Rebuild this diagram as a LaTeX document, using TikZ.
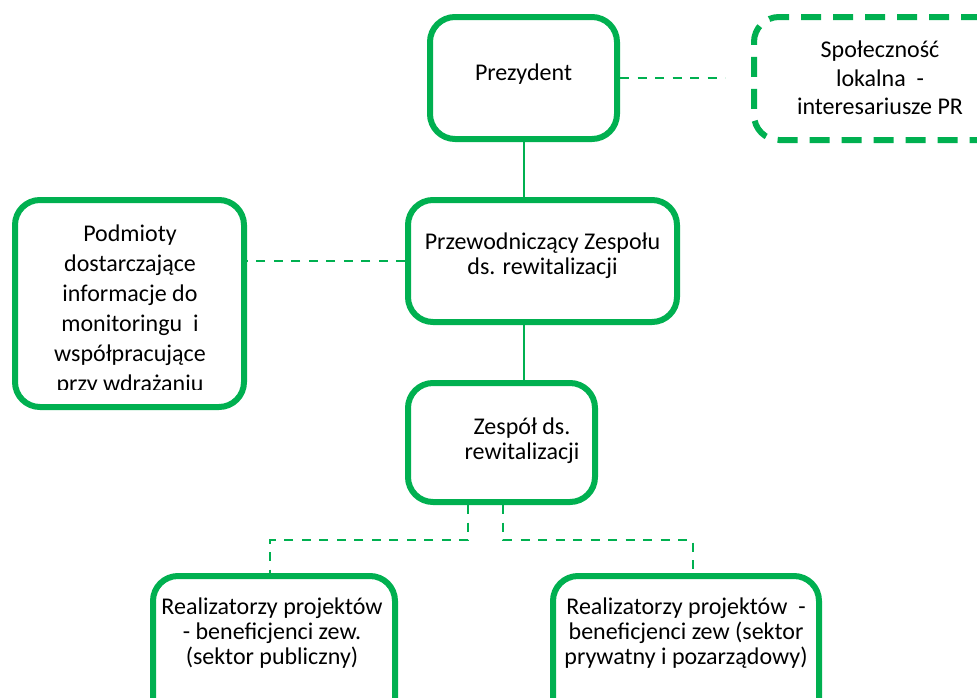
\documentclass[tikz,border=0pt]{standalone}
\usepackage{fontspec}
\setmainfont{Carlito}
\definecolor{og}{HTML}{00B050}
\begin{document}
\begin{tikzpicture}[x=1pt,y=-1pt,
  box/.style={draw=og,line width=6pt,rounded corners=25pt,inner sep=0pt},
  dbox/.style={box,dash pattern=on 20pt off 12pt},
  solidlink/.style={draw=og,line width=2pt},
  dlink/.style={draw=og,line width=2.5pt,dash pattern=on 9pt off 8.5pt},
  txt/.style={align=center,inner sep=0pt,font=\fontsize{24}{25}\selectfont}]
\clip (0,0) rectangle (977,697);
\fill[white] (0,0) rectangle (977,697);
% boxes
\node[box,minimum width=187pt,minimum height=122pt] (pre) at (523.5,78) {};
\node[dbox,minimum width=252pt,minimum height=123pt] (spo) at (880,78.5) {};
\node[box,minimum width=269pt,minimum height=122pt] (prz) at (542.5,261) {};
\node[box,minimum width=187pt,minimum height=119pt] (zes) at (501.5,442.5) {};
\node[box,minimum width=229pt,minimum height=207pt] (pod) at (129.5,303.5) {};
\node[box,minimum width=242pt,minimum height=150pt] (bl) at (274,651) {};
\node[box,minimum width=266pt,minimum height=150pt] (br) at (686,651) {};
% texts
\node[txt] (pret) at (523.5,74) {Prezydent};
\node[txt,font=\fontsize{24}{28.5}\selectfont] (spot) at (880,78) {Społeczność\\lokalna \ -\\interesariusze PR};
\node[txt] (przt) at (542.5,256) {Przewodniczący Zespołu\\ds. rewitalizacji};
\node[txt] (zest) at (522,441) {Zespół ds.\\rewitalizacji};
\begin{scope}
\clip (15,200) rectangle (244,389);
\node[txt,font=\fontsize{24}{30}\selectfont] (podt) at (130,310) {Podmioty\\dostarczające\\informacje do\\monitoringu \ i\\współpracujące\\przy wdrażaniu};
\end{scope}
\node[txt] (blt) at (272,633) {Realizatorzy projektów\\- beneficjenci zew.\\(sektor publiczny)};
\node[txt] (brt) at (686,633) {Realizatorzy projektów \ -\\beneficjenci zew (sektor\\prywatny i pozarządowy)};
% connectors
\coordinate (spoend) at (725,78);
\draw[dlink] (pre.east) -- (spoend);
\draw[solidlink] (pre.south) -- (pre.south |- prz.north);
\draw[solidlink] (prz.south -| pre.south) -- (zes.north -| pre.south);
\draw[dlink] (prz.west) -- (prz.west -| pod.east);
\coordinate (zl) at (468,505);
\coordinate (zr) at (503,505);
\draw[dlink] (zl) -- (468,540) -- (270,540) -- (270,573);
\draw[dlink] (zr) -- (503,540) -- (693,540) -- (693,573);
\end{tikzpicture}
\end{document}
